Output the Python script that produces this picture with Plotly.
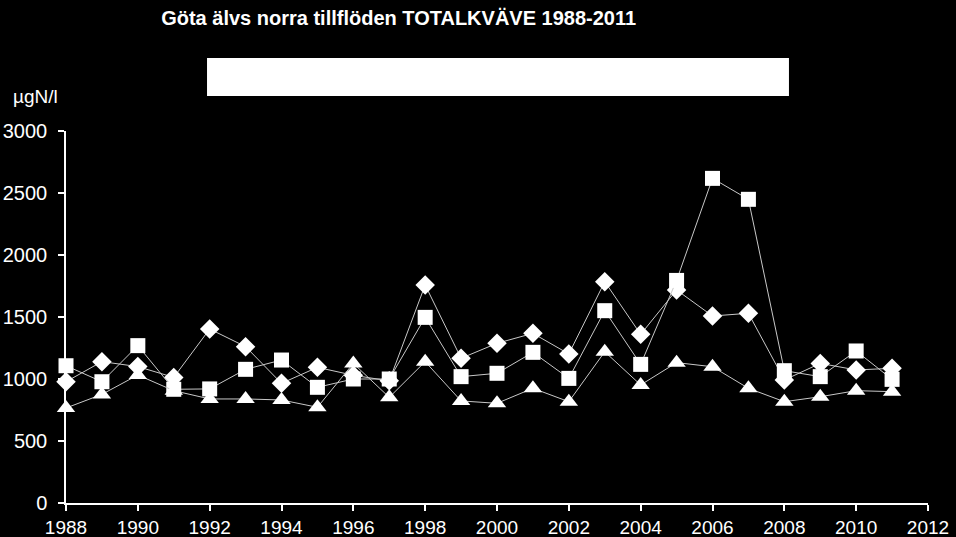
import plotly.graph_objects as go

years = list(range(1988, 2012))
diamond_vals = [978, 1140, 1100, 1013, 1403, 1261, 965, 1094, 1030, 985, 1758, 1167,
                1288, 1368, 1202, 1785, 1360, 1718, 1508, 1530, 992, 1126, 1073, 1086]
square_vals = [1107, 978, 1269, 917, 920, 1078, 1153, 933, 1000, 1000, 1497, 1019,
               1046, 1215, 1005, 1551, 1118, 1795, 2618, 2449, 1067, 1019, 1226, 997]
triangle_vals = [766, 876, 1032, 906, 839, 839, 831, 772, 1126, 852, 1140, 823,
                 804, 925, 817, 1220, 952, 1132, 1099, 925, 817, 857, 906, 898]

x_ticks = list(range(1988, 2013, 2))
y_ticks = [0, 500, 1000, 1500, 2000, 2500, 3000]

FONT = "Liberation Sans, Arial, sans-serif"
line_col = "rgb(200,200,200)"

fig = go.Figure()
for vals, sym, size in [(diamond_vals, "diamond", 15), (square_vals, "square", 15),
                        (triangle_vals, "triangle-up", 16)]:
    fig.add_trace(go.Scatter(
        x=years, y=vals, mode="lines+markers",
        line=dict(color=line_col, width=1),
        marker=dict(symbol=sym, size=size, color="white", line=dict(width=0)),
        showlegend=False, cliponaxis=False))

fig.update_layout(
    template="none",
    width=956, height=537,
    paper_bgcolor="black", plot_bgcolor="black",
    margin=dict(l=66, r=28, t=131, b=34, autoexpand=False),
    font=dict(family=FONT, color="white", size=20),
    title=dict(text="<b>Göta älvs norra tillflöden TOTALKVÄVE 1988-2011</b>",
               x=0.417, xanchor="center", y=0.967, yanchor="middle",
               font=dict(family=FONT, size=20, color="white")),
    xaxis=dict(range=[1988, 2012], tickvals=x_ticks, showgrid=False, zeroline=False,
               automargin=False, ticklabelstandoff=0,
               showline=True, linecolor="white", linewidth=1.5,
               ticks="outside", ticklen=6, tickcolor="white", tickwidth=1.5,
               tickfont=dict(size=19, color="white")),
    yaxis=dict(range=[0, 3000], tickvals=y_ticks, showgrid=False, zeroline=False,
               automargin=False, ticklabelstandoff=7,
               showline=True, linecolor="white", linewidth=1.5,
               ticks="outside", ticklen=6, tickcolor="white", tickwidth=1.5,
               tickfont=dict(size=20, color="white")),
    shapes=[dict(type="rect", xref="paper", yref="paper",
                 x0=0.1636, x1=0.8387, y0=1.094, y1=1.196,
                 fillcolor="white", line=dict(width=0))],
    annotations=[dict(text="µgN/l", xref="paper", yref="paper", x=-0.064, y=1.092,
                      xanchor="left", yanchor="middle", showarrow=False,
                      font=dict(family=FONT, size=19, color="white"))],
)

fig.write_html(
    "out.html",
    config={"displayModeBar": False},
    post_script="document.body.style.margin='0';document.body.style.overflow='hidden';"
                "document.body.style.background='black';",
)
